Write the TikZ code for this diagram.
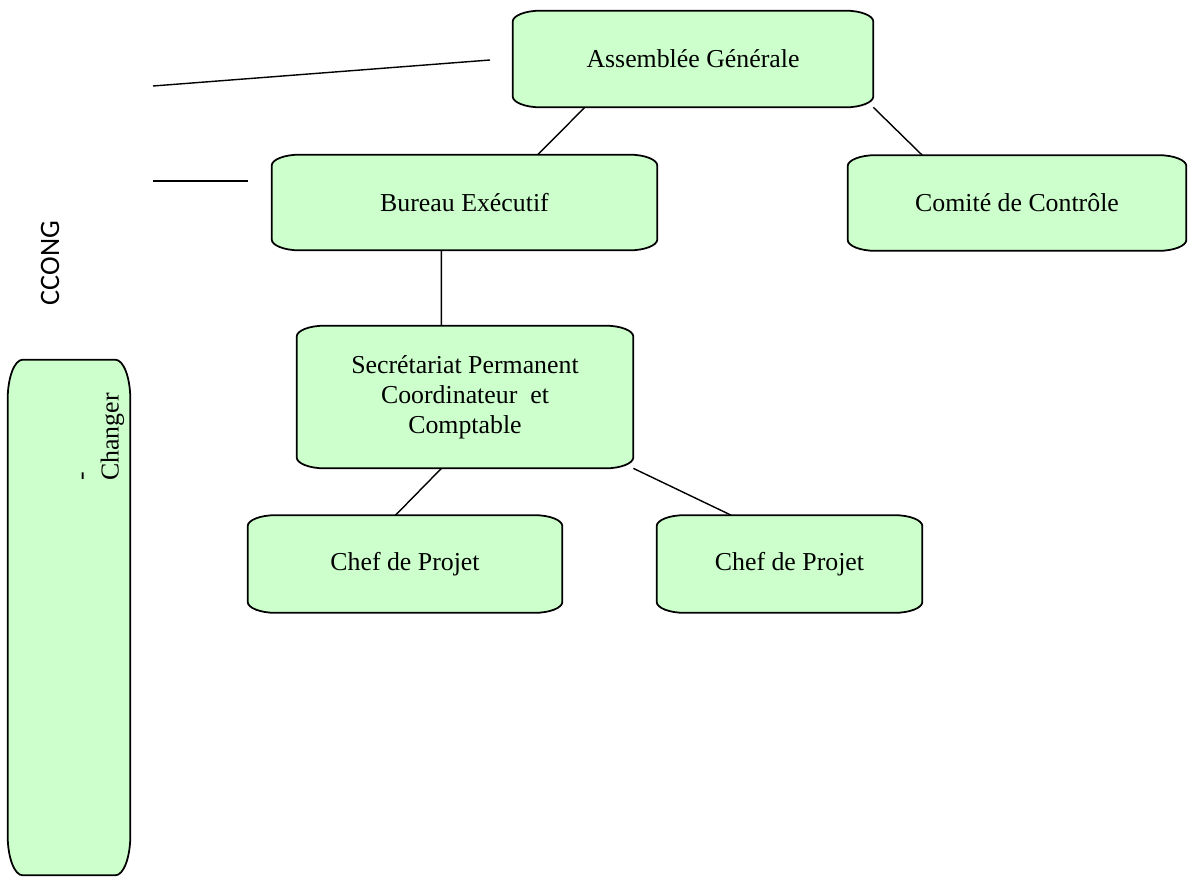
\documentclass[tikz,border=0pt]{standalone}
\usepackage{fontspec}
\setmainfont{Liberation Serif}
\newfontfamily\labelsans{Carlito}
\usepackage{tikz}
\usetikzlibrary{calc, backgrounds}
\definecolor{boxgreen}{HTML}{CCFFCC}

% outline with flat elliptic corners, drawn behind the node text
\newcommand{\greenframe}[3]{%
  \begin{scope}[on background layer]
    \draw [framestyle] ([xshift=#2]#1.north west) -- ([xshift=-#2]#1.north east)
      arc [start angle=90, end angle=0, x radius=#2, y radius=#3]
      -- ([yshift=#3]#1.south east)
      arc [start angle=0, end angle=-90, x radius=#2, y radius=#3]
      -- ([xshift=#2]#1.south west)
      arc [start angle=270, end angle=180, x radius=#2, y radius=#3]
      -- ([yshift=-#3]#1.north west)
      arc [start angle=180, end angle=90, x radius=#2, y radius=#3] -- cycle;
  \end{scope}}

\begin{document}
\begin{tikzpicture}
  [x=0.02cm, y=-0.02cm,
   orgbox/.style={inner sep=0pt, align=center, font=\fontsize{14.7}{17}\selectfont},
   framestyle/.style={draw=black, line width=1pt, fill=boxgreen},
   link/.style={line width=0.8pt}]
  \useasboundingbox (0,0) rectangle (1192,879);
  % boxes
  \node (ag) at (693,59) [orgbox, minimum width=7.2cm, minimum height=1.92cm] {Assembl\'ee G\'en\'erale};
  \greenframe{ag}{0.56cm}{0.22cm}
  \node (be) at (464.5,202.5) [orgbox, minimum width=7.7cm, minimum height=1.9cm] {Bureau Ex\'ecutif};
  \greenframe{be}{0.56cm}{0.22cm}
  \node (cc) at (1017,203) [orgbox, minimum width=6.76cm, minimum height=1.9cm] {Comit\'e de Contr\^ole};
  \greenframe{cc}{0.56cm}{0.22cm}
  \node (sp) at (465,397) [orgbox, minimum width=6.72cm, minimum height=2.84cm] {Secr\'etariat Permanent\\Coordinateur\ \ et\\Comptable};
  \greenframe{sp}{0.56cm}{0.22cm}
  \node (cp1) at (405,564) [orgbox, minimum width=6.28cm, minimum height=1.94cm] {Chef de Projet};
  \greenframe{cp1}{0.56cm}{0.22cm}
  \node (cp2) at (789.5,564) [orgbox, minimum width=5.3cm, minimum height=1.94cm] {Chef de Projet};
  \greenframe{cp2}{0.56cm}{0.22cm}
  \node (side) at (69,617.5) [orgbox, minimum width=2.44cm, minimum height=10.3cm] {};
  \greenframe{side}{0.3cm}{0.8cm}
  \node (changer) at (103,437) [orgbox, rotate=90, align=left] {-\\Changer};
  \node (ccong) at (50,263) [rotate=90, font=\labelsans\fontsize{16}{19}\selectfont] {CCONG};
  % loose strokes on the left
  \coordinate (s1a) at (153,86);
  \coordinate (s1b) at (490,60);
  \coordinate (s2a) at (153,181);
  \coordinate (s2b) at (248,181);
  \draw [link] (s1a) -- (s1b);
  \draw [link] (s2a) -- (s2b);
  % links
  \draw [link] ($(ag.south west)!0.2!(ag.south east)$) -- ($(be.north west)!0.69!(be.north east)$);
  \draw [link] (ag.south east) -- ($(cc.north west)!0.22!(cc.north east)$);
  \draw [link] ($(be.south west)!0.44!(be.south east)$) -- ($(sp.north west)!0.43!(sp.north east)$);
  \draw [link] ($(sp.south west)!0.43!(sp.south east)$) -- ($(cp1.north west)!0.47!(cp1.north east)$);
  \draw [link] (sp.south east) -- ($(cp2.north west)!0.28!(cp2.north east)$);
\end{tikzpicture}
\end{document}
